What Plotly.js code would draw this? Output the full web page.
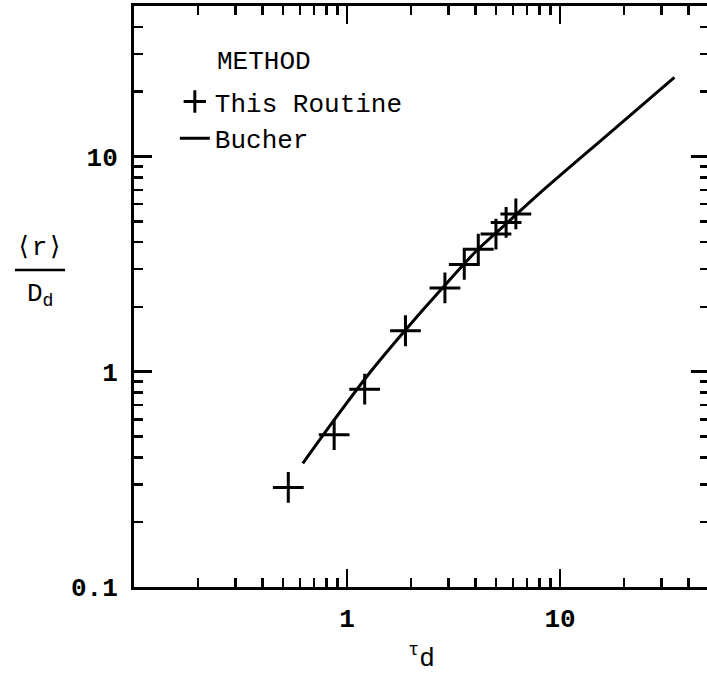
<!DOCTYPE html>
<html>
<head>
<meta charset="utf-8">
<script src="https://cdn.plot.ly/plotly-3.0.1.min.js"></script>
<style>
  html, body { margin: 0; padding: 0; overflow: hidden; background: #fff; }
  #chart { width: 709px; height: 678px; }
</style>
</head>
<body>
<div id="chart"></div>
<script>
// Mean displacement <r>/D_d against tau_d, log-log
const routineTau = [0.53, 0.87, 1.21, 1.88, 2.88, 3.55, 4.13, 5.0, 5.58, 6.2];
const routineR   = [0.29, 0.51, 0.83, 1.55, 2.45, 3.15, 3.71, 4.36, 4.94, 5.41];

const bucherTau = [0.62, 0.83, 1.3, 2.23, 2.67, 4.0, 5.5, 8.15, 16.7, 34.4];
const bucherR   = [0.375, 0.56, 1.01, 1.90, 2.32, 3.6, 4.8, 6.84, 12.6, 23.3];

const xMajorVals = [1, 10];
const xMajorText = ['1', '10'];
const yMajorVals = [0.1, 1, 10];
const yMajorText = ['0.1', '1', '10'];
const minorVals = [0.2, 0.3, 0.4, 0.5, 0.6, 0.7, 0.8, 0.9,
                   2, 3, 4, 5, 6, 7, 8, 9, 20, 30, 40];

const FONT = 'Liberation Mono, Courier New, monospace';

const traces = [
  {
    x: routineTau, y: routineR,
    type: 'scatter', mode: 'markers',
    name: 'This Routine',
    marker: { symbol: 'cross-thin', size: 22, color: 'black',
              line: { color: 'black', width: 3 } }
  },
  {
    x: bucherTau, y: bucherR,
    type: 'scatter', mode: 'lines',
    name: 'Bucher',
    line: { color: 'black', width: 3, shape: 'spline', smoothing: 0.8 }
  }
];

function axisBase(majVals, majText) {
  return {
    type: 'log',
    range: [-1, Math.log10(50)],
    tickmode: 'array',
    tickvals: majVals,
    ticktext: majText,
    ticks: 'inside',
    ticklen: 18,
    tickwidth: 2.5,
    tickcolor: 'black',
    showline: true,
    linecolor: 'black',
    linewidth: 3,
    mirror: 'ticks',
    showgrid: false,
    zeroline: false,
    tickfont: { family: FONT, size: 26, color: 'black', weight: 'bold' },
    minor: {
      tickmode: 'array',
      tickvals: minorVals,
      ticks: 'inside',
      ticklen: 9,
      tickwidth: 2.5,
      tickcolor: 'black',
      showgrid: false
    }
  };
}

const xaxis = axisBase(xMajorVals, xMajorText);
xaxis.ticklabelstandoff = 6;
xaxis.title = { text: '<sup>τ</sup>d', font: { family: FONT, size: 26, color: 'black' }, standoff: 14 };

const yaxis = axisBase(yMajorVals, yMajorText);
yaxis.ticklabelstandoff = 8;

const layout = {
  width: 709,
  height: 678,
  margin: { l: 134, r: 0, t: 6, b: 91 },
  paper_bgcolor: 'white',
  plot_bgcolor: 'white',
  font: { family: FONT, color: 'black' },
  xaxis: xaxis,
  yaxis: yaxis,
  showlegend: true,
  legend: {
    x: 0.071, y: 0.876, xanchor: 'left', yanchor: 'top',
    bgcolor: 'rgba(0,0,0,0)',
    borderwidth: 0,
    font: { family: FONT, size: 26, color: 'black' },
    traceorder: 'normal'
  },
  annotations: [
    { text: 'METHOD', xref: 'paper', yref: 'paper', x: 0.1409, y: 0.9036,
      xanchor: 'left', yanchor: 'middle', showarrow: false,
      font: { family: FONT, size: 26, color: 'black' } },
    { text: '⟨r⟩', xref: 'paper', yref: 'paper', x: -0.1635, y: 0.5835,
      xanchor: 'center', yanchor: 'middle', showarrow: false,
      font: { family: FONT, size: 26, color: 'black' } },
    { text: 'D<sub>d</sub>', xref: 'paper', yref: 'paper', x: -0.163, y: 0.503,
      xanchor: 'center', yanchor: 'middle', showarrow: false,
      font: { family: FONT, size: 26, color: 'black' } }
  ],
  shapes: [
    { type: 'line', xref: 'paper', yref: 'paper',
      x0: -0.207, x1: -0.12, y0: 0.5456, y1: 0.5456,
      line: { color: 'black', width: 2.5 } }
  ]
};

Plotly.newPlot('chart', traces, layout, { displayModeBar: false, staticPlot: true });
</script>
</body>
</html>
